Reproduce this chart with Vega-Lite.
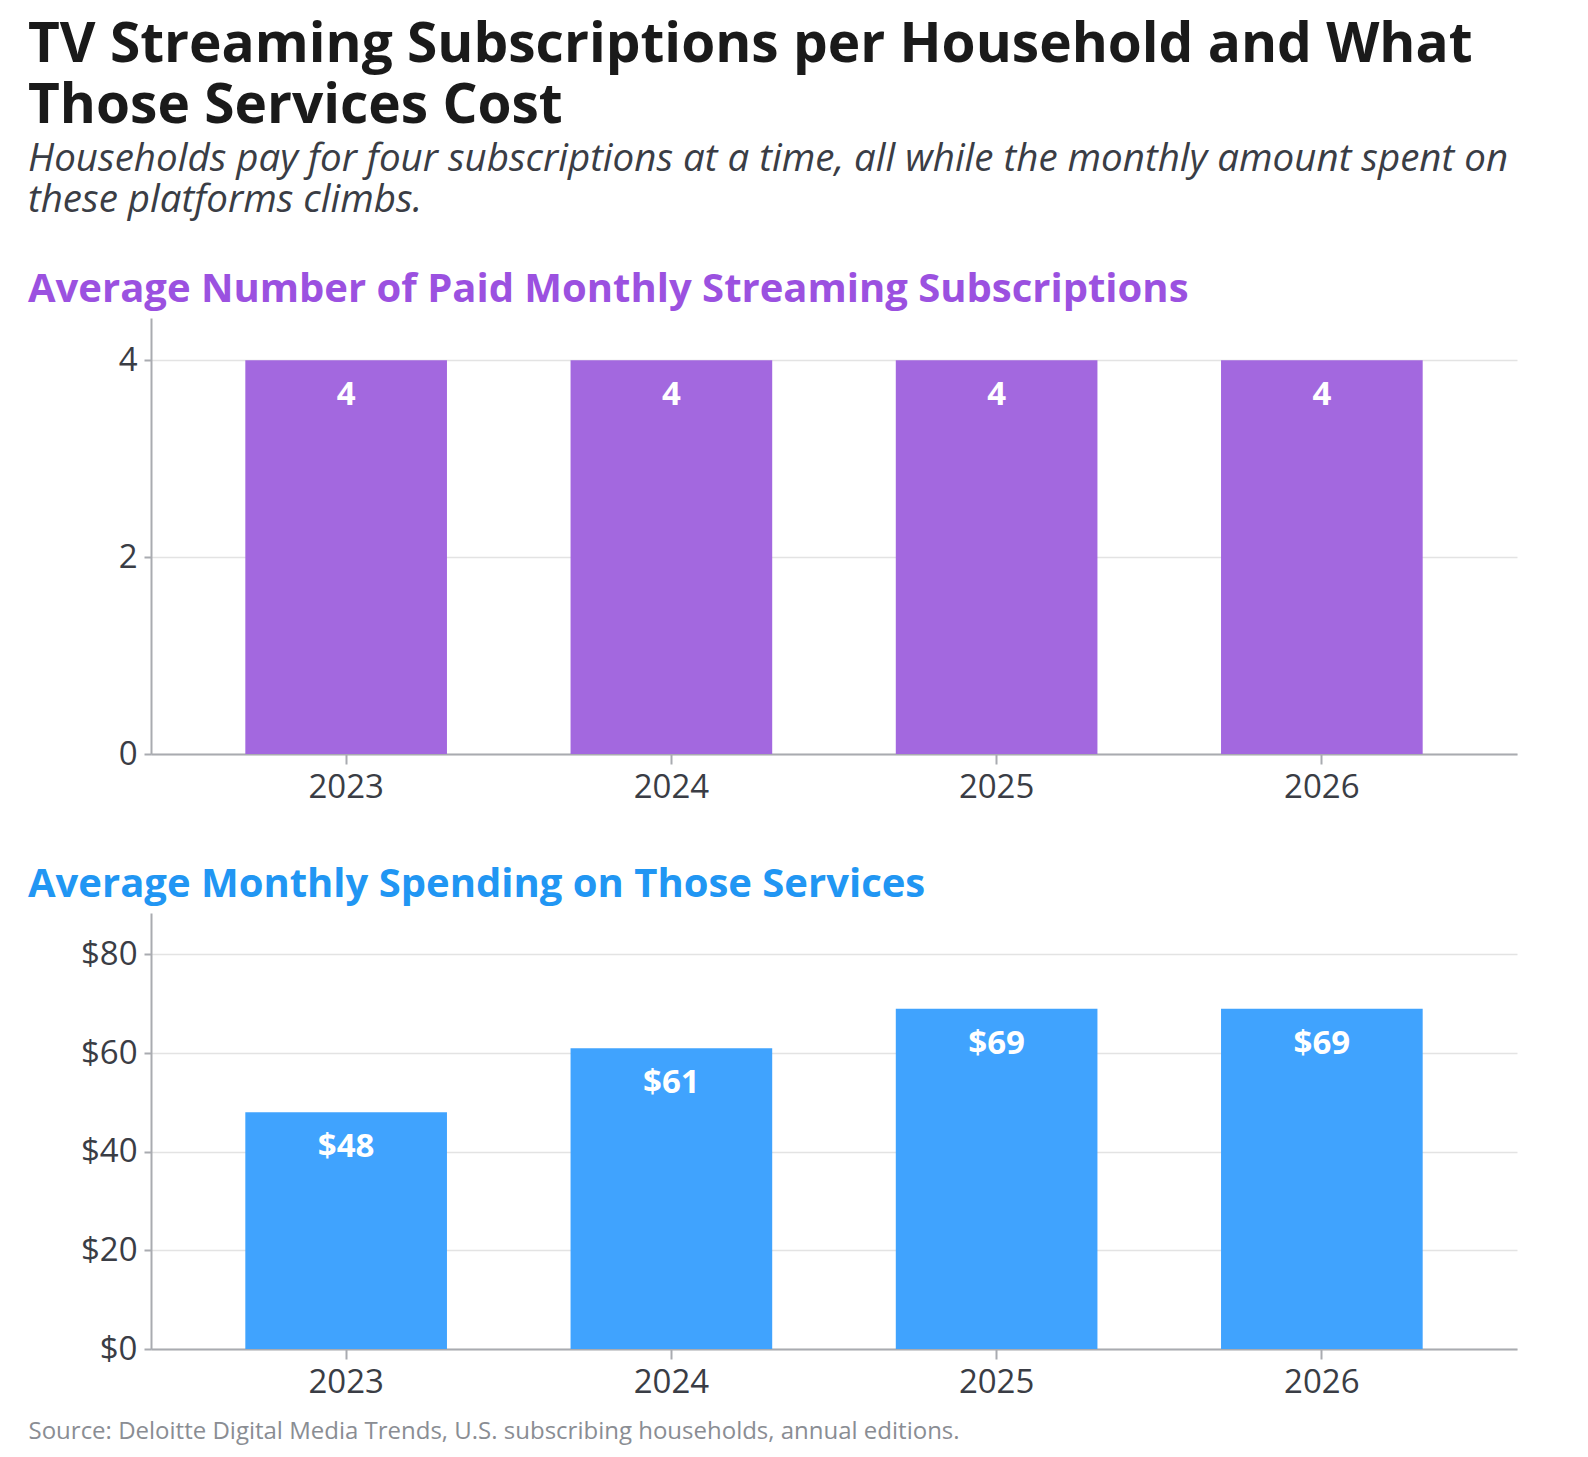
{
  "$schema": "https://vega.github.io/schema/vega-lite/v6.json",
  "background": "white",
  "padding": {"left": 28, "top": 18, "right": 20, "bottom": 10},
  "title": {
    "text": ["TV Streaming Subscriptions per Household and What", "Those Services Cost"],
    "subtitle": ["Households pay for four subscriptions at a time, all while the monthly amount spent on", "these platforms climbs."],
    "anchor": "start",
    "frame": "bounds",
    "font": "Open Sans",
    "fontSize": 55,
    "fontWeight": "bold",
    "color": "#1a1a1a",
    "lineHeight": 61,
    "subtitleFont": "Open Sans",
    "subtitleFontSize": 38.5,
    "subtitleFontStyle": "italic",
    "subtitleColor": "#3a3d45",
    "subtitleLineHeight": 40.5,
    "subtitlePadding": 6,
    "offset": 50
  },
  "datasets": {
    "subs": [
      {"year": "2023", "value": 4, "label": "4"},
      {"year": "2024", "value": 4, "label": "4"},
      {"year": "2025", "value": 4, "label": "4"},
      {"year": "2026", "value": 4, "label": "4"}
    ],
    "spend": [
      {"year": "2023", "value": 48, "label": "$48"},
      {"year": "2024", "value": 61, "label": "$61"},
      {"year": "2025", "value": 69, "label": "$69"},
      {"year": "2026", "value": 69, "label": "$69"}
    ]
  },
  "config": {
    "font": "Open Sans",
    "view": {"stroke": null},
    "concat": {"spacing": 61},
    "axis": {
      "labelFont": "Open Sans",
      "labelFontSize": 33,
      "labelColor": "#3a3d45",
      "domainColor": "#a9abb0",
      "domainWidth": 2,
      "tickColor": "#a9abb0",
      "tickWidth": 2,
      "gridColor": "#e3e3e3",
      "gridWidth": 1.5,
      "title": null
    },
    "axisX": {"tickSize": 10, "labelPadding": 7, "labelAngle": 0, "grid": false},
    "axisY": {"tickSize": 7, "labelPadding": 7, "minExtent": 123}
  },
  "vconcat": [
    {
      "width": 1366,
      "height": 436,
      "title": {
        "text": "Average Number of Paid Monthly Streaming Subscriptions",
        "anchor": "start",
        "frame": "group",
        "dx": -123,
        "font": "Open Sans",
        "fontSize": 40,
        "fontWeight": "bold",
        "color": "#9b51e0",
        "offset": 8
      },
      "data": {"name": "subs"},
      "encoding": {
        "x": {
          "field": "year",
          "type": "ordinal",
          "scale": {"paddingInner": 0.38, "paddingOuter": 0.29}
        },
        "y": {
          "field": "value",
          "type": "quantitative",
          "scale": {"domain": [0, 4.43], "nice": false},
          "axis": {"values": [0, 2, 4]}
        }
      },
      "layer": [
        {"mark": {"type": "bar", "color": "#a368df"}},
        {
          "mark": {"type": "text", "color": "white", "fontSize": 33, "fontWeight": "bold", "baseline": "middle", "dy": 35},
          "encoding": {"text": {"field": "label"}}
        }
      ]
    },
    {
      "width": 1366,
      "height": 436,
      "title": {
        "text": "Average Monthly Spending on Those Services",
        "anchor": "start",
        "frame": "group",
        "dx": -123,
        "font": "Open Sans",
        "fontSize": 40,
        "fontWeight": "bold",
        "color": "#2196f3",
        "offset": 8
      },
      "data": {"name": "spend"},
      "encoding": {
        "x": {
          "field": "year",
          "type": "ordinal",
          "scale": {"paddingInner": 0.38, "paddingOuter": 0.29},
          "axis": {
            "title": "Source: Deloitte Digital Media Trends, U.S. subscribing households, annual editions.",
            "titleAnchor": "start",
            "titleAlign": "left",
            "titleBaseline": "alphabetic",
            "titleX": -123,
            "titleY": 89,
            "titleFont": "Open Sans",
            "titleFontSize": 24,
            "titleFontWeight": "normal",
            "titleColor": "#8a8d93"
          }
        },
        "y": {
          "field": "value",
          "type": "quantitative",
          "scale": {"domain": [0, 88.4], "nice": false},
          "axis": {"values": [0, 20, 40, 60, 80], "format": "$,.0f"}
        }
      },
      "layer": [
        {"mark": {"type": "bar", "color": "#40a3fe"}},
        {
          "mark": {"type": "text", "color": "white", "fontSize": 33, "fontWeight": "bold", "baseline": "middle", "dy": 35},
          "encoding": {"text": {"field": "label"}}
        }
      ]
    }
  ]
}
